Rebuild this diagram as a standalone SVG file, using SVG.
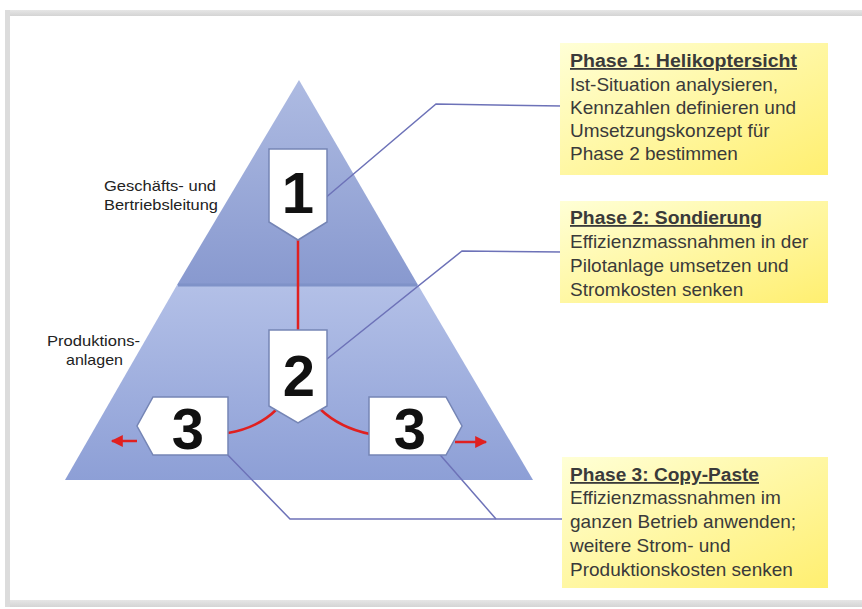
<svg xmlns="http://www.w3.org/2000/svg" width="862" height="609" viewBox="0 0 862 609">
<defs>
<linearGradient id="gTop" x1="0" y1="0" x2="0" y2="1">
<stop offset="0" stop-color="#AEBBE2"/>
<stop offset="1" stop-color="#8899CF"/>
</linearGradient>
<linearGradient id="gBot" x1="0" y1="0" x2="0" y2="1">
<stop offset="0" stop-color="#B3C0E7"/>
<stop offset="1" stop-color="#8D9FD6"/>
</linearGradient>
<linearGradient id="gNote" x1="0" y1="0" x2="1" y2="1">
<stop offset="0" stop-color="#FFFFD6"/>
<stop offset="1" stop-color="#FFEF70"/>
</linearGradient>
<linearGradient id="gBand" x1="0" y1="0" x2="0" y2="1">
<stop offset="0" stop-color="#E6E6E6"/>
<stop offset="1" stop-color="#D4D4D4"/>
</linearGradient>
<marker id="arr" viewBox="0 0 10 10" refX="9" refY="5" markerWidth="13" markerHeight="12" markerUnits="userSpaceOnUse" orient="auto">
<path d="M0,0 L10,5 L0,10 Z" fill="#E02020"/>
</marker>
<style>
.box{fill:#FFFFFF;stroke:#7585B5;stroke-width:1.5}
.num{font-family:"Liberation Sans",Arial,sans-serif;font-weight:bold;font-size:58px;fill:#111;text-anchor:middle}
.lbl{font-family:"Liberation Sans",Arial,sans-serif;font-size:15px;fill:#222}
.note{fill:url(#gNote)}
.nt{font-family:"Liberation Sans",Arial,sans-serif;font-size:19px;fill:#3A3A3A}
.nh{font-family:"Liberation Sans",Arial,sans-serif;font-size:18px;font-weight:bold;fill:#3A3A3A;text-decoration:underline}
.lead{fill:none;stroke:#6D72B8;stroke-width:1.5}
.red{fill:none;stroke:#E02020;stroke-width:2.5}
</style>
</defs>

<g id="frame">
<rect x="5" y="10" width="857" height="6" fill="url(#gBand)"/>
<rect x="5" y="600" width="857" height="7" fill="url(#gBand)"/>
<rect x="5" y="10" width="5" height="597" fill="#DCDCDC"/>
</g>

<g id="pyramid">
<polygon points="299,80 418,285 177,285" fill="url(#gTop)"/>
<polygon points="177,285 418,285 533,480 65,480" fill="url(#gBot)"/>
<line x1="178" y1="285" x2="417" y2="285" stroke="#7F92C8" stroke-width="3"/>
</g>

<g id="levels">
<text class="lbl" x="104" y="191" textLength="112" lengthAdjust="spacingAndGlyphs">Geschäfts- und</text>
<text class="lbl" x="104" y="210" textLength="114" lengthAdjust="spacingAndGlyphs">Bertriebsleitung</text>
<text class="lbl" x="47" y="346" textLength="93" lengthAdjust="spacingAndGlyphs">Produktions-</text>
<text class="lbl" x="66" y="365" textLength="57" lengthAdjust="spacingAndGlyphs">anlagen</text>
</g>

<g id="connectors">
<line class="red" x1="298" y1="240" x2="298" y2="330"/>
<path class="red" d="M277,409 Q258,428 228,433"/>
<path class="red" d="M320,409 Q340,428 370,434"/>
<line class="red" x1="137" y1="441" x2="112" y2="441" marker-end="url(#arr)"/>
<line class="red" x1="455" y1="442" x2="486" y2="442" marker-end="url(#arr)"/>
<polyline class="lead" points="317,205 436,104 562,106"/>
<polyline class="lead" points="317,367 462,251 562,252"/>
<polyline class="lead" points="222,449 290,519 562,519"/>
<line class="lead" x1="435" y1="449" x2="496" y2="519"/>
</g>

<g id="step1">
<polygon class="box" points="269,149 327,149 327,222 298,240 269,222"/>
<text class="num" x="298" y="213">1</text>
</g>
<g id="step2">
<polygon class="box" points="269,330 327,330 327,406 298,423 269,406"/>
<text class="num" x="299" y="396">2</text>
</g>
<g id="step3-left">
<polygon class="box" points="153,397 228,397 228,455 153,455 137,426"/>
<text class="num" x="188" y="449">3</text>
</g>
<g id="step3-right">
<polygon class="box" points="369,397 446,397 462,426 446,455 369,455"/>
<text class="num" x="410" y="449">3</text>
</g>

<g id="phase1">
<rect class="note" x="560" y="43" width="268" height="132"/>
<text class="nh" x="570" y="67" textLength="227" lengthAdjust="spacingAndGlyphs">Phase 1: Helikoptersicht</text>
<text class="nt" x="570" y="91">Ist-Situation analysieren,</text>
<text class="nt" x="570" y="114">Kennzahlen definieren und</text>
<text class="nt" x="570" y="137">Umsetzungskonzept für</text>
<text class="nt" x="570" y="160">Phase 2 bestimmen</text>
</g>
<g id="phase2">
<rect class="note" x="560" y="201" width="268" height="102"/>
<text class="nh" x="570" y="224" textLength="192" lengthAdjust="spacingAndGlyphs">Phase 2: Sondierung</text>
<text class="nt" x="570" y="248">Effizienzmassnahmen in der</text>
<text class="nt" x="570" y="272">Pilotanlage umsetzen und</text>
<text class="nt" x="570" y="296">Stromkosten senken</text>
</g>
<g id="phase3">
<rect class="note" x="562" y="457" width="266" height="131"/>
<text class="nh" x="570" y="481" textLength="189" lengthAdjust="spacingAndGlyphs">Phase 3: Copy-Paste</text>
<text class="nt" x="570" y="504">Effizienzmassnahmen im</text>
<text class="nt" x="570" y="528">ganzen Betrieb anwenden;</text>
<text class="nt" x="570" y="552">weitere Strom- und</text>
<text class="nt" x="570" y="576">Produktionskosten senken</text>
</g>
</svg>
